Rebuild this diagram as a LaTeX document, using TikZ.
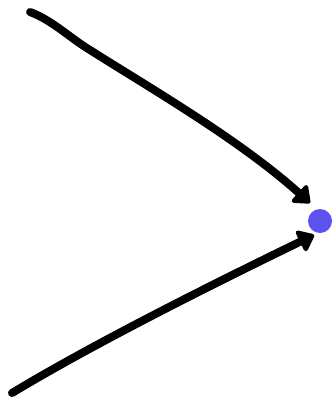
\documentclass[tikz,border=0pt]{standalone}
\usetikzlibrary{arrows.meta}
\definecolor{dotblue}{RGB}{92,82,240}
\begin{document}
\begin{tikzpicture}[x=1pt,y=-1pt,
  stroke/.style={line width=8pt,line cap=round,black,
    -{Triangle[length=17pt,width=26pt,round]}},
  bluedot/.style={circle,fill=dotblue,draw=none,inner sep=0pt,minimum size=24pt}]
\useasboundingbox (0,0) rectangle (333,401);
\node[bluedot] (dot) at (320,221) {};
\coordinate (s1) at (30,12);
\coordinate (t1) at (310,203);
\coordinate (s2) at (12,393);
\coordinate (t2) at (314,235);
\draw[stroke] (s1) .. controls (52,20) and (70,38) .. (90,50) .. controls (150,88) and (240,140) .. (t1);
\draw[stroke] (s2) .. controls (80,352) and (180,300) .. (t2);
\end{tikzpicture}
\end{document}
